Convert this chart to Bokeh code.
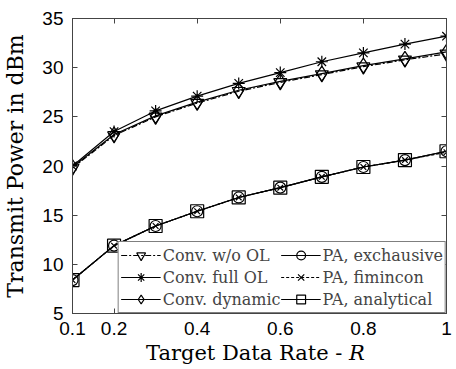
from bokeh.plotting import figure
from bokeh.layouts import column
from bokeh.models import (Range1d, LinearAxis, FixedTicker, Legend, LegendItem, Div,
                          CustomJSTickFormatter)
from bokeh.embed import file_html
from bokeh.resources import INLINE

rate = [0.1, 0.2, 0.3, 0.4, 0.5, 0.6, 0.7, 0.8, 0.9, 1.0]
conv_wo_ol = [19.8, 23.1, 25.0, 26.4, 27.6, 28.5, 29.3, 30.1, 30.8, 31.4]
conv_full_ol = [20.0, 23.5, 25.6, 27.1, 28.4, 29.5, 30.6, 31.5, 32.4, 33.2]
conv_dynamic = [19.9, 23.2, 25.1, 26.5, 27.7, 28.6, 29.4, 30.2, 30.9, 31.6]
pa_exhaustive = [8.4, 11.9, 13.9, 15.4, 16.8, 17.8, 18.9, 19.9, 20.6, 21.5]
pa_fmincon = [8.4, 11.9, 13.9, 15.4, 16.8, 17.8, 18.9, 19.9, 20.6, 21.4]
pa_analytical = [8.4, 11.9, 13.9, 15.4, 16.8, 17.8, 18.9, 19.9, 20.6, 21.5]

x_ticks = [0.1, 0.2, 0.4, 0.6, 0.8, 1.0]
x_tick_labels = {0.1: "0.1", 0.2: "0.2", 0.4: "0.4", 0.6: "0.6", 0.8: "0.8", 1.0: "1"}
y_ticks = [5, 10, 15, 20, 25, 30, 35]

AX = "#444444"
SANS = "Liberation Sans"
SERIF = "DejaVu Serif"

p = figure(width=456, height=341, output_backend="svg", toolbar_location=None,
           x_range=Range1d(0.1, 1.0), y_range=Range1d(5, 35),
           min_border_left=72, min_border_right=10, min_border_top=18, min_border_bottom=28)
p.xgrid.visible = False
p.ygrid.visible = False
p.outline_line_color = AX
p.background_fill_color = "white"
p.border_fill_color = "white"

for ax in (p.xaxis[0], p.yaxis[0]):
    ax.major_tick_in = 5
    ax.major_tick_out = 0
    ax.minor_tick_line_color = None
    ax.axis_line_color = AX
    ax.major_tick_line_color = AX
    ax.major_label_text_font = SANS
    ax.major_label_text_font_size = "19px"
    ax.major_label_text_color = "black"

p.xaxis[0].major_label_standoff = 8
p.yaxis[0].major_label_standoff = 9
p.xaxis[0].ticker = FixedTicker(ticks=x_ticks)
p.xaxis[0].major_label_overrides = x_tick_labels
p.yaxis[0].ticker = FixedTicker(ticks=y_ticks)

p.yaxis[0].axis_label = "Transmit Power in dBm"
p.yaxis[0].axis_label_text_font = SERIF
p.yaxis[0].axis_label_text_font_style = "normal"
p.yaxis[0].axis_label_text_font_size = "22px"
p.yaxis[0].axis_label_text_color = "black"
p.yaxis[0].axis_label_standoff = 11

for loc, tk in (("right", y_ticks), ("above", x_ticks)):
    a = LinearAxis(ticker=FixedTicker(ticks=tk),
                   formatter=CustomJSTickFormatter(code="return ''"))
    a.major_tick_in = 5
    a.major_tick_out = 0
    a.minor_tick_line_color = None
    a.axis_line_color = AX
    a.major_tick_line_color = AX
    a.major_label_text_font_size = "1px"
    a.major_label_standoff = 0
    p.add_layout(a, loc)

def series(y, marker, size, dash="solid"):
    l = p.line(rate, y, line_color="black", line_width=1.2, line_dash=dash)
    s = p.scatter(rate, y, marker=marker, size=size, line_color="black",
                  fill_color=None, line_width=1.2)
    return [l, s]

r_wo = series(conv_wo_ol, "inverted_triangle", 13, "6 2 2 2")
r_full = series(conv_full_ol, "asterisk", 12)
r_dyn = series(conv_dynamic, "diamond", 15)
r_exh = series(pa_exhaustive, "circle", 11)
r_fmin = series(pa_fmincon, "x", 8, "3 2")
r_ana = series(pa_analytical, "square", 13)

items = [
    LegendItem(label="Conv. w/o OL", renderers=r_wo),
    LegendItem(label="Conv. full OL", renderers=r_full),
    LegendItem(label="Conv. dynamic", renderers=r_dyn),
    LegendItem(label="PA, exchausive", renderers=r_exh),
    LegendItem(label="PA, fimincon", renderers=r_fmin),
    LegendItem(label="PA, analytical", renderers=r_ana),
]
leg = Legend(items=items, location="bottom_right", ncols=2, margin=0,
             label_text_font=SERIF, label_text_font_size="16px",
             label_standoff=2, glyph_width=40, glyph_height=22,
             spacing=0, padding=2, border_line_color="black",
             border_line_width=1, background_fill_alpha=1)
p.add_layout(leg, "center")

xlabel = Div(text='Target Data Rate - <i>R</i>', width=456, height=28, margin=0,
             styles={"font-family": "DejaVu Serif", "font-size": "21px",
                     "color": "black", "padding-left": "146px",
                     "line-height": "24px", "white-space": "nowrap"})

layout = column(p, xlabel, spacing=0)
open("out.html", "w").write(file_html(layout, INLINE))
